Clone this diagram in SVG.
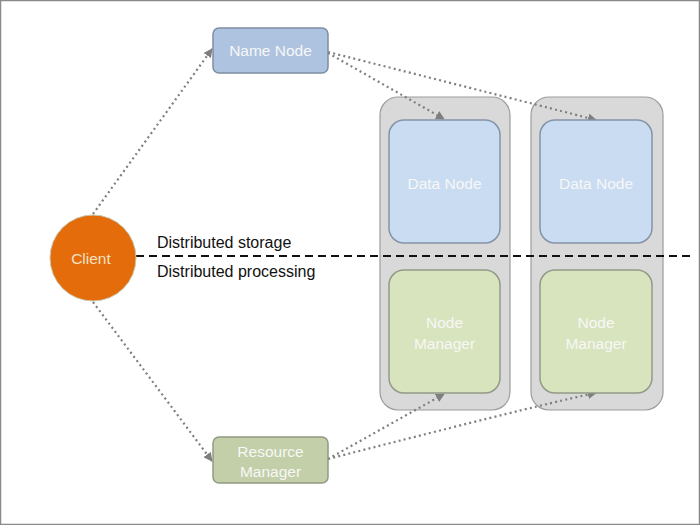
<svg xmlns="http://www.w3.org/2000/svg" width="700" height="525" viewBox="0 0 700 525">
<style>
.lbl{font-family:"Liberation Sans",Arial,sans-serif;font-size:15.5px;fill:#f7f7f7;text-anchor:middle}
.side{font-family:"Liberation Sans",Arial,sans-serif;font-size:16px;fill:#111}
.con{fill:none;stroke:#7f7f7f;stroke-width:2.2;stroke-dasharray:2 3.2;marker-end:url(#ah)}
.box{fill:#d9d9d9;stroke:#9a9e98;stroke-width:1.2}
.dn{fill:#c9dcf2;stroke:#8593a6;stroke-width:1.5}
.nm{fill:#d7e4bd;stroke:#939b88;stroke-width:1.5}
</style>
<defs>
<marker id="ah" viewBox="0 0 10 10" refX="9" refY="5" markerWidth="9" markerHeight="9" markerUnits="userSpaceOnUse" orient="auto">
<path d="M0,0 L10,5 L0,10 z" fill="#7f7f7f"/>
</marker>
</defs>
<rect x="0.5" y="0.5" width="699" height="524" fill="#fff" stroke="#8a8a8a" stroke-width="1.5"/>
<g id="container1"><rect class="box" x="380" y="97" width="130" height="313" rx="18"/></g>
<g id="container2"><rect class="box" x="531" y="97" width="132" height="313" rx="18"/></g>
<g id="dashed-divider">
<line x1="136" y1="256" x2="690" y2="256" stroke="#111" stroke-width="2" stroke-dasharray="8 5"/>
</g>
<g id="connectors">
<path class="con" d="M93,214 L212,49"/>
<path class="con" d="M93,302 L212,461"/>
<path class="con" d="M328,53 L444,119"/>
<path class="con" d="M328,52 Q550,108 596,120"/>
<path class="con" d="M328,459 L444,394"/>
<path class="con" d="M328,459 Q550,402 596,393"/>
</g>
<g id="name-node">
<rect x="213" y="28" width="115" height="45" rx="6" fill="#adc3df" stroke="#7d8da3" stroke-width="1.5"/>
<text class="lbl" x="270.5" y="56">Name Node</text>
</g>
<g id="client">
<circle cx="93" cy="258" r="43" fill="#e46c0a" stroke="#c9c9b0" stroke-width="1"/>
<text class="lbl" x="91" y="264" style="fill:#f2e2c4">Client</text>
</g>
<g id="data-node-1">
<rect class="dn" x="389" y="120" width="111" height="123" rx="15"/>
<text class="lbl" x="444.5" y="189">Data Node</text>
</g>
<g id="data-node-2">
<rect class="dn" x="540" y="120" width="112" height="123" rx="15"/>
<text class="lbl" x="596" y="189">Data Node</text>
</g>
<g id="node-manager-1">
<rect class="nm" x="389" y="270" width="111" height="123" rx="15"/>
<text class="lbl" x="444.5" y="328">Node</text>
<text class="lbl" x="444.5" y="349">Manager</text>
</g>
<g id="node-manager-2">
<rect class="nm" x="540" y="270" width="112" height="123" rx="15"/>
<text class="lbl" x="596" y="328">Node</text>
<text class="lbl" x="596" y="349">Manager</text>
</g>
<g id="resource-manager">
<rect x="213" y="437" width="115" height="46" rx="6" fill="#c3cfa8" stroke="#929a84" stroke-width="1.5"/>
<text class="lbl" x="270.5" y="457">Resource</text>
<text class="lbl" x="270.5" y="477">Manager</text>
</g>
<g id="labels">
<text class="side" x="157" y="248">Distributed storage</text>
<text class="side" x="157" y="277">Distributed processing</text>
</g>
</svg>
